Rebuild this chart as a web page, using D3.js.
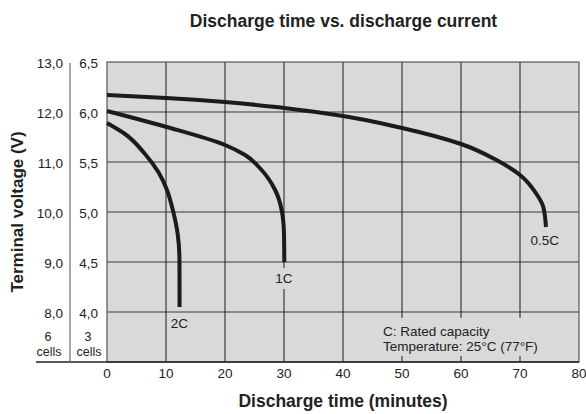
<!DOCTYPE html>
<html lang="en">
<head>
  <meta charset="UTF-8" />
  <title>Discharge time vs. discharge current</title>
  <script src="https://d3js.org/d3.v7.min.js"></script>
  <style>
    body, html { margin: 0; padding: 0; background: #fff; }
    svg { display: block; font-family: "Liberation Sans", Arial, sans-serif; }
  </style>
</head>
<body>
  <svg id="chart" width="586" height="414"></svg>
  <script>
    // Tick values
    const xTicks = [0, 10, 20, 30, 40, 50, 60, 70, 80];
    const yTicks3 = [4.0, 4.5, 5.0, 5.5, 6.0, 6.5];                 // 3 cells
    const yTicks6 = ["8,0", "9,0", "10,0", "11,0", "12,0", "13,0"]; // 6 cells

    // Curves: [minutes, volts (3 cells)]
    const curve05C = [[0, 6.17], [10, 6.14], [20, 6.10], [30, 6.04], [40, 5.96], [50, 5.84],
      [60, 5.68], [66, 5.52], [70, 5.37], [72.8, 5.18], [73.95, 5.05], [74.4, 4.85]];
    const curve1C = [[0, 6.01], [10.1, 5.85], [20, 5.67], [23.4, 5.57], [26.2, 5.42],
      [28.5, 5.22], [29.6, 5.02], [30.0, 4.78], [30.05, 4.5]];
    const curve2C = [[0, 5.89], [3.05, 5.78], [6.44, 5.58], [8.7, 5.40], [10.1, 5.23],
      [11.24, 5.0], [11.98, 4.78], [12.28, 4.52], [12.3, 4.05]];

    const labels = [["2C", 12.25, 3.84], ["1C", 30, 4.29], ["0.5C", 74.2, 4.67]];
    const noteLines = ["C: Rated capacity", "Temperature: 25°C (77°F)"];

    const svg = d3.select("#chart");
    const x = d3.scaleLinear().domain([0, 80]).range([107, 579]);
    const y = d3.scaleLinear().domain([3.5, 6.5]).range([362, 62]);
    const bg = "#d9d9da";

    // Title
    svg.append("text").attr("x", 343.5).attr("y", 27).attr("text-anchor", "middle")
      .attr("font-size", 17.5).attr("font-weight", "bold").attr("fill", "#222")
      .text("Discharge time vs. discharge current");

    // Plot background
    svg.append("rect").attr("x", x(0)).attr("y", y(6.5))
      .attr("width", x(80) - x(0)).attr("height", y(3.5) - y(6.5)).attr("fill", bg);

    // Horizontal grid (gray)
    svg.append("g").selectAll("line").data(yTicks3.slice(0, -1)).join("line")
      .attr("x1", x(0)).attr("x2", x(80)).attr("y1", d => y(d)).attr("y2", d => y(d))
      .attr("stroke", "#6e6e6e").attr("stroke-width", 1.4);

    // Vertical grid (black)
    svg.append("g").selectAll("line").data(xTicks.slice(1, -1)).join("line")
      .attr("x1", d => x(d)).attr("x2", d => x(d)).attr("y1", y(6.5)).attr("y2", y(3.5))
      .attr("stroke", "#1a1a1a").attr("stroke-width", 1);

    // Plot border
    svg.append("rect").attr("x", x(0)).attr("y", y(6.5))
      .attr("width", x(80) - x(0)).attr("height", y(3.5) - y(6.5))
      .attr("fill", "none").attr("stroke", "#555").attr("stroke-width", 1.2);

    // Bottom axis line, extended under the cell columns
    svg.append("line").attr("x1", 36).attr("x2", x(80)).attr("y1", y(3.5)).attr("y2", y(3.5))
      .attr("stroke", "#222").attr("stroke-width", 1.3);

    // Separator between the 6-cell and 3-cell columns
    svg.append("line").attr("x1", 70).attr("x2", 70).attr("y1", y(6.5) + 1).attr("y2", y(3.5))
      .attr("stroke", "#777").attr("stroke-width", 1.3);

    // Y tick labels
    svg.append("g").selectAll("text").data(yTicks3).join("text")
      .attr("x", 98).attr("y", d => y(d) + 6).attr("text-anchor", "end")
      .attr("font-size", 13.5).attr("fill", "#222")
      .text(d => d.toFixed(1).replace(".", ","));
    svg.append("g").selectAll("text").data(yTicks6).join("text")
      .attr("x", 63).attr("y", (d, i) => y(yTicks3[i]) + 6).attr("text-anchor", "end")
      .attr("font-size", 13.5).attr("fill", "#222")
      .text(d => d);

    // Cell labels
    [["6", 48], ["3", 88]].forEach(([n, cx]) => {
      svg.append("text").attr("x", cx).attr("y", 341).attr("text-anchor", "middle")
        .attr("font-size", 12.5).attr("fill", "#222").text(n);
      svg.append("text").attr("x", cx + 1).attr("y", 356).attr("text-anchor", "middle")
        .attr("font-size", 12.5).attr("fill", "#222").text("cells");
    });

    // X tick labels
    svg.append("g").selectAll("text").data(xTicks).join("text")
      .attr("x", d => x(d)).attr("y", 378).attr("text-anchor", "middle")
      .attr("font-size", 13.5).attr("fill", "#222").text(d => d);

    // Axis titles
    svg.append("text").attr("x", 343).attr("y", 407).attr("text-anchor", "middle")
      .attr("font-size", 17.5).attr("font-weight", "bold").attr("fill", "#222")
      .text("Discharge time (minutes)");
    svg.append("text").attr("transform", "translate(23,212) rotate(-90)")
      .attr("text-anchor", "middle").attr("font-size", 17).attr("font-weight", "bold")
      .attr("fill", "#222").text("Terminal voltage (V)");

    // Knockout backgrounds for labels sitting over the grid
    svg.append("rect").attr("x", 378).attr("y", 318).attr("width", 167).attr("height", 38).attr("fill", bg);
    svg.append("rect").attr("x", x(30) - 9).attr("y", 268).attr("width", 18).attr("height", 21).attr("fill", bg);

    // Curves (voltage falls monotonically along each curve)
    const line = d3.line().x(d => x(d[0])).y(d => y(d[1])).curve(d3.curveMonotoneY);
    [curve05C, curve1C, curve2C].forEach(c => {
      svg.append("path").datum(c).attr("d", line)
        .attr("fill", "none").attr("stroke", "#1b1b1b").attr("stroke-width", 4)
        .attr("stroke-linecap", "butt").attr("stroke-linejoin", "round");
    });

    // Curve labels
    svg.append("g").selectAll("text").data(labels).join("text")
      .attr("x", d => x(d[1])).attr("y", d => y(d[2])).attr("text-anchor", "middle")
      .attr("font-size", 13.5).attr("fill", "#222").text(d => d[0]);

    // Note
    svg.append("g").selectAll("text").data(noteLines).join("text")
      .attr("x", 383).attr("y", (d, i) => 336 + i * 14.5)
      .attr("font-size", 13.5).attr("fill", "#222").text(d => d);
  </script>
</body>
</html>
